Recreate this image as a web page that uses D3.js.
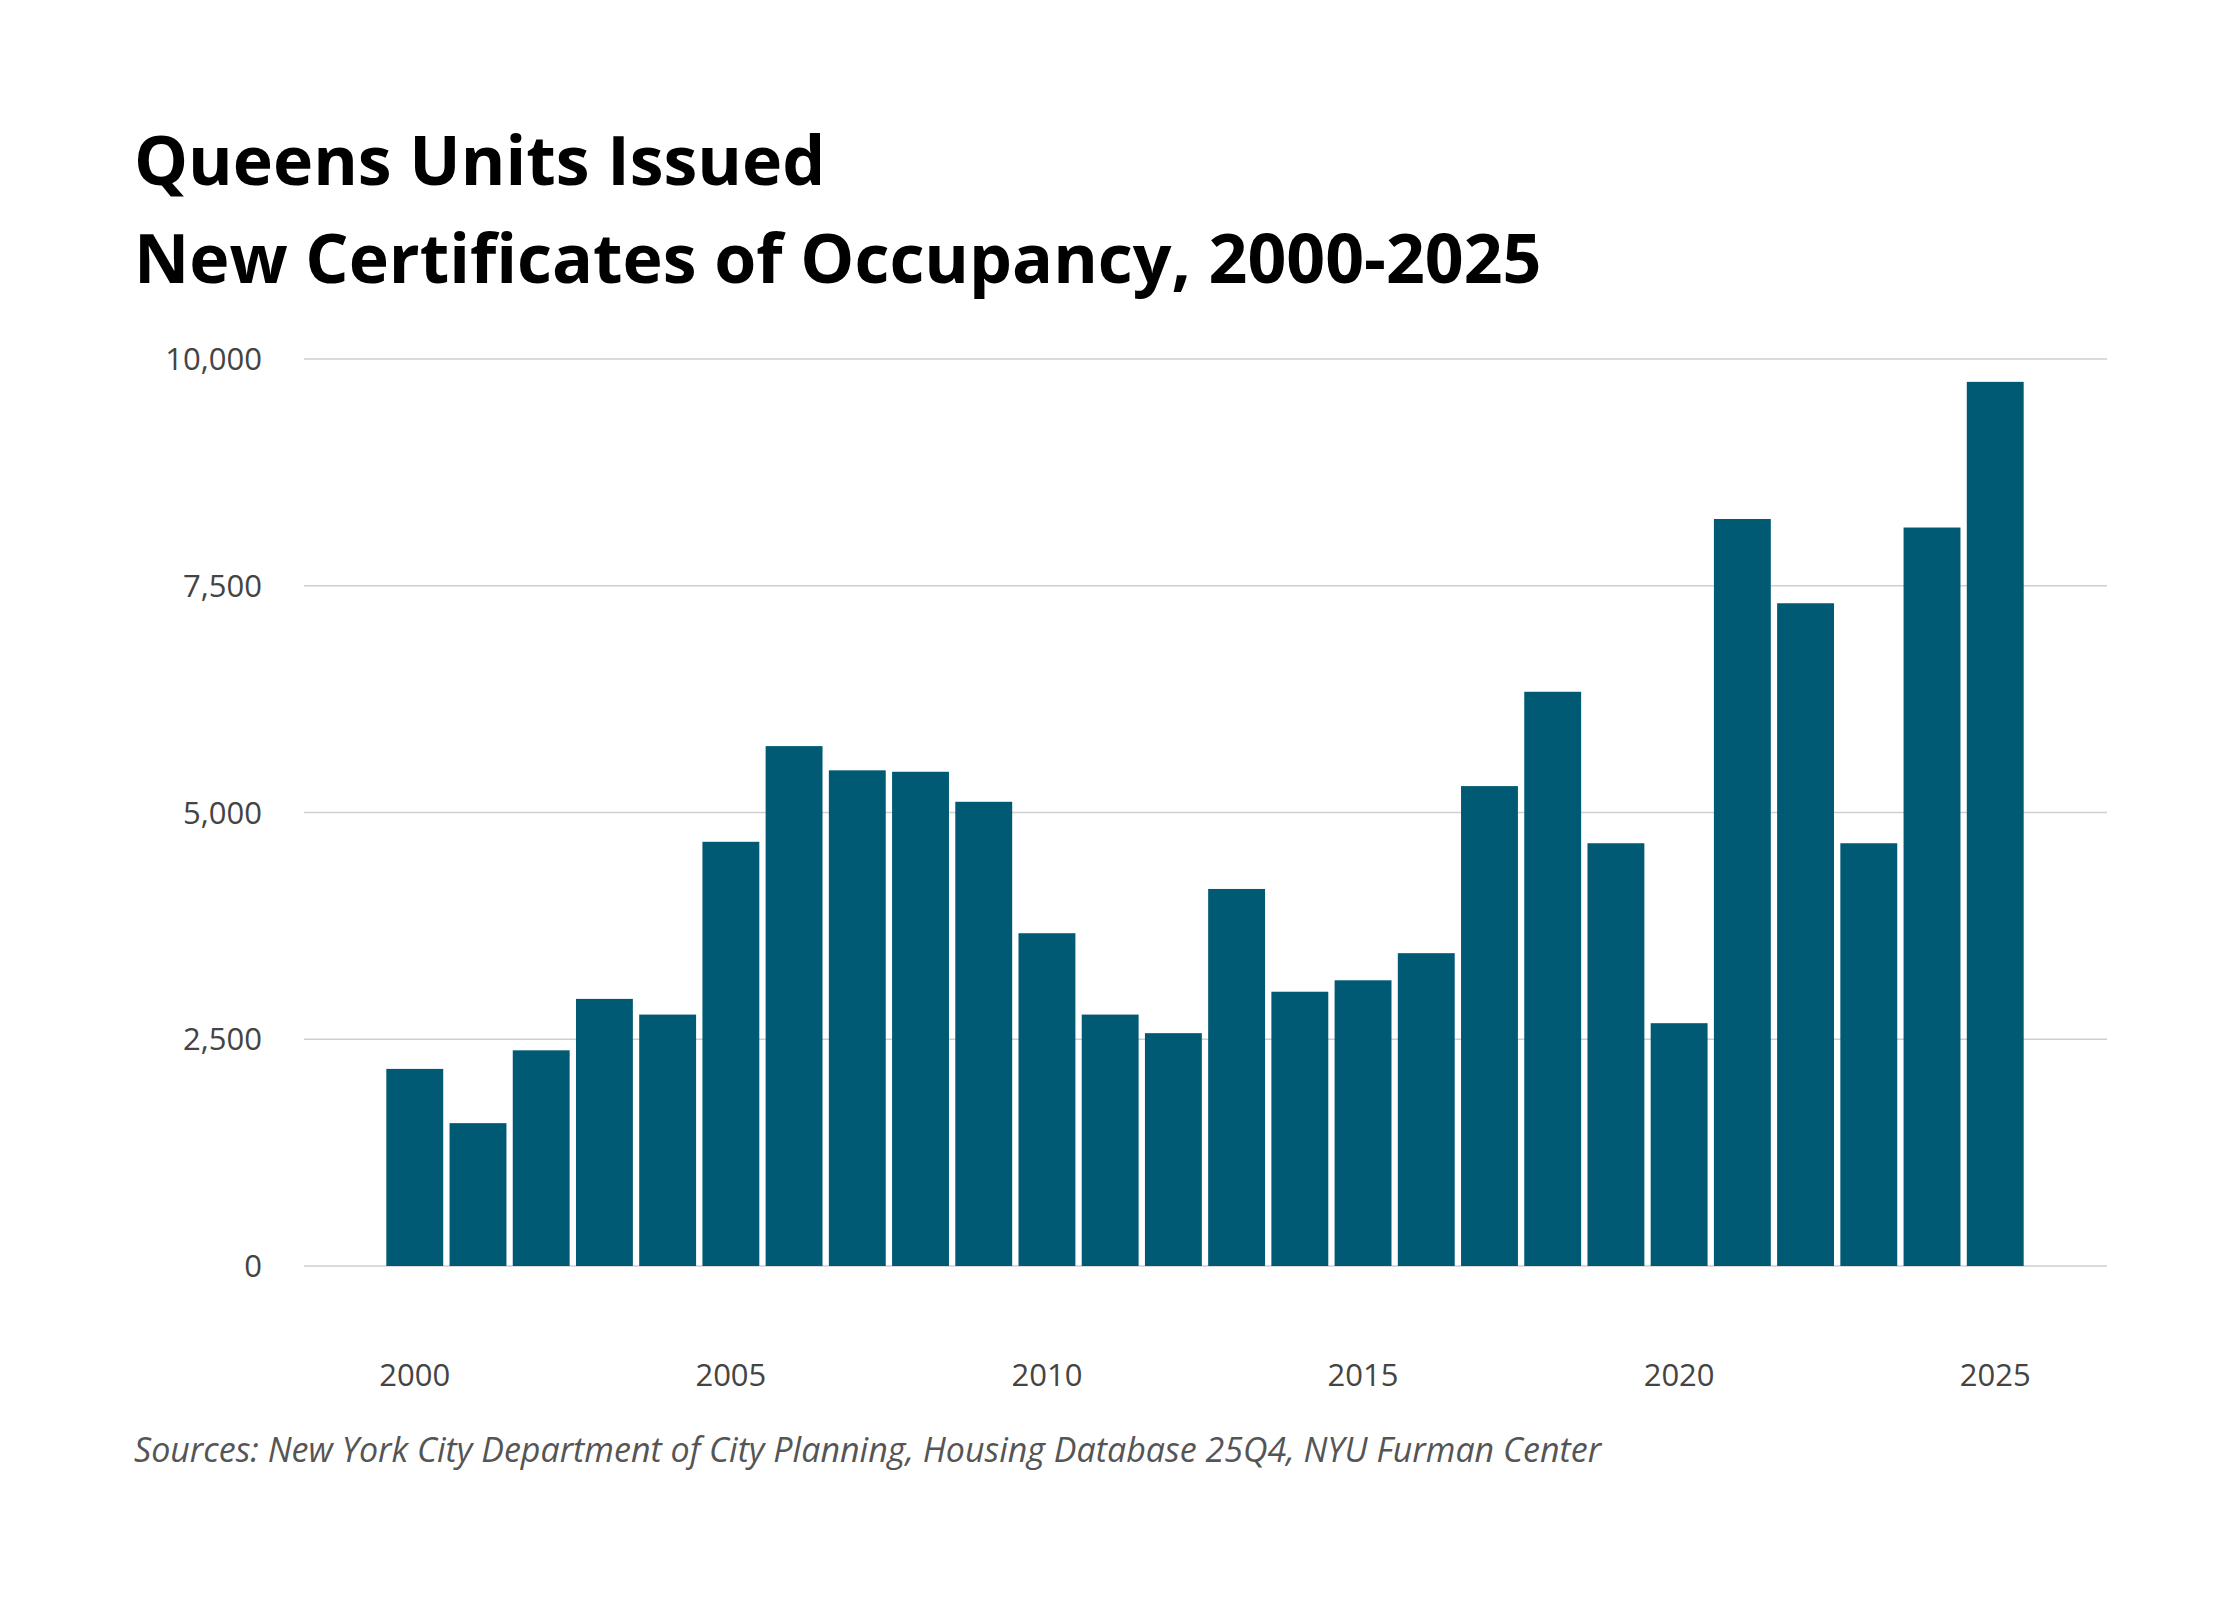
<!DOCTYPE html>
<html>
<head>
<meta charset="utf-8">
<script src="https://cdn.jsdelivr.net/npm/d3@7"></script>
<style>
  body { margin: 0; background: #fff; }
  text { font-family: "Open Sans", "Noto Sans", sans-serif; }
</style>
</head>
<body>
<svg id="chart" width="2240" height="1600"></svg>
<script>
const years = d3.range(2000, 2026);
const units = [2173, 1575, 2378, 2945, 2772, 4677, 5732, 5465, 5449, 5118,
               3669, 2772, 2567, 4157, 3024, 3150, 3449, 5291, 6331, 4661,
               2677, 8236, 7307, 4661, 8142, 9748];
const yTicks = [0, 2500, 5000, 7500, 10000];
const xTicks = [2000, 2005, 2010, 2015, 2020, 2025];

const svg = d3.select('#chart');
svg.append('rect').attr('width', 2240).attr('height', 1600).attr('fill', '#fff');

const gridLeft = 304, gridRight = 2107;

const xScale = d3.scaleBand()
    .domain(years)
    .range([380, 2030])
    .padding(0.1);

const yScale = d3.scaleLinear()
    .domain([0, 10000])
    .range([1266, 359]);

// grid lines
svg.append('g').selectAll('line')
    .data(yTicks)
    .enter()
    .append('line')
    .attr('x1', gridLeft).attr('x2', gridRight)
    .attr('y1', d => yScale(d)).attr('y2', d => yScale(d))
    .attr('stroke', '#cfcfcf').attr('stroke-width', 1.5);

// y labels
svg.append('g').selectAll('text')
    .data(yTicks)
    .enter()
    .append('text')
    .attr('x', 262)
    .attr('y', d => yScale(d) + 11)
    .attr('text-anchor', 'end')
    .attr('font-size', 31)
    .attr('fill', '#444')
    .text(d => d3.format(',')(d));

// bars
svg.append('g').selectAll('rect')
    .data(years)
    .enter()
    .append('rect')
    .attr('x', d => xScale(d))
    .attr('y', (d, i) => yScale(units[i]))
    .attr('width', xScale.bandwidth())
    .attr('height', (d, i) => yScale(0) - yScale(units[i]))
    .attr('fill', '#005a74');

// x labels
svg.append('g').selectAll('text')
    .data(xTicks)
    .enter()
    .append('text')
    .attr('x', d => xScale(d) + xScale.bandwidth() / 2)
    .attr('y', 1386)
    .attr('text-anchor', 'middle')
    .attr('font-size', 31)
    .attr('fill', '#444')
    .text(d => d);

// titles
svg.append('text')
    .attr('x', 134).attr('y', 185)
    .attr('font-size', 68).attr('font-weight', 700).attr('fill', '#000')
    .text('Queens Units Issued');
svg.append('text')
    .attr('x', 134).attr('y', 283)
    .attr('font-size', 68).attr('font-weight', 700).attr('fill', '#000')
    .text('New Certificates of Occupancy, 2000-2025');

svg.append('text')
    .attr('x', 134).attr('y', 1462)
    .attr('font-size', 34).attr('font-style', 'italic').attr('fill', '#555')
    .text('Sources: New York City Department of City Planning, Housing Database 25Q4, NYU Furman Center');
</script>
</body>
</html>
